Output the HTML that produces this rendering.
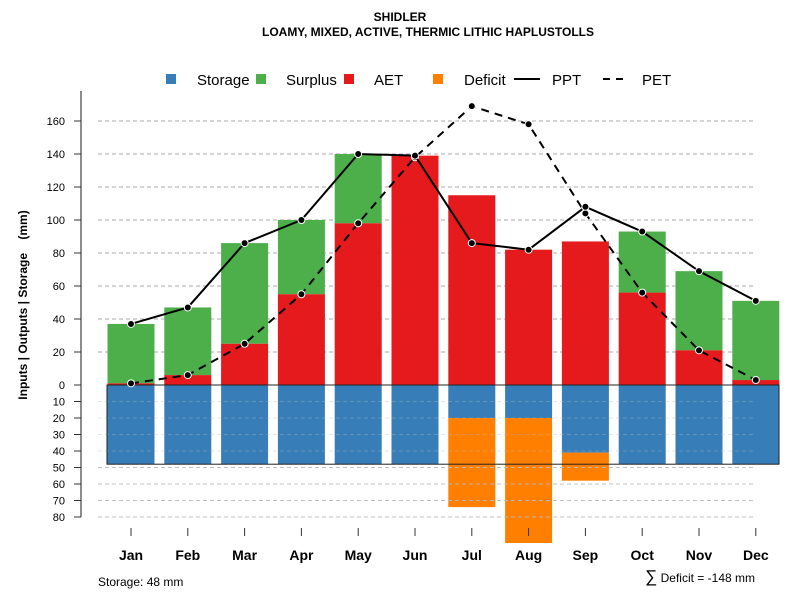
<!DOCTYPE html>
<html><head><meta charset="utf-8"><style>body{margin:0;background:#fff}svg{font-family:"Liberation Sans",sans-serif}</style></head>
<body>
<svg id="c" width="800" height="600">
<text x="400" y="21" text-anchor="middle" font-size="12" font-weight="bold">SHIDLER</text>
<text x="428" y="36" text-anchor="middle" font-size="12" font-weight="bold">LOAMY, MIXED, ACTIVE, THERMIC LITHIC HAPLUSTOLLS</text>
<g id="legend" font-size="15">
<rect x="166" y="74" width="10" height="10" fill="#377EB8"/><text x="197" y="85">Storage</text>
<rect x="256" y="74" width="10" height="10" fill="#4DAF4A"/><text x="286" y="85">Surplus</text>
<rect x="344" y="74" width="10" height="10" fill="#E41A1C"/><text x="374" y="85">AET</text>
<rect x="433" y="74" width="10" height="10" fill="#FF7F00"/><text x="464" y="85">Deficit</text>
<line x1="514" y1="79" x2="540" y2="79" stroke="#000" stroke-width="2"/><text x="552" y="85">PPT</text>
<line x1="603" y1="79" x2="626" y2="79" stroke="#000" stroke-width="2" stroke-dasharray="7,6"/><text x="642" y="85">PET</text>
</g>
<text transform="translate(27,305) rotate(-90)" text-anchor="middle" font-size="12" font-weight="bold" xml:space="preserve">Inputs | Outputs | Storage    (mm)</text>
<text x="98" y="586" font-size="12">Storage: 48 mm</text>
<text x="755" y="582" text-anchor="end" font-size="12"><tspan font-size="17">∑</tspan> Deficit = -148 mm</text>
</svg>
<script>
const months=["Jan","Feb","Mar","Apr","May","Jun","Jul","Aug","Sep","Oct","Nov","Dec"];
const ppt=[37,47,86,100,140,139,86,82,108,93,69,51];
const pet=[1,6,25,55,98,138,169,158,104,56,21,3];
const aet=[1,6,25,55,98,139,115,82,87,56,21,3];
const storage=[48,48,48,48,48,48,20,20,41,48,48,48];
const deficit=[0,0,0,0,0,0,54,76,17,0,0,0];
const upTicks=[0,20,40,60,80,100,120,140,160];
const downTicks=[10,20,30,40,50,60,70,80];
const NS="http://www.w3.org/2000/svg",svg=document.getElementById('c');
const y0=385,k=1.65;
const yUp=v=>y0-v*k, yDn=v=>y0+v*k;
const xC=i=>131+i*56.8, bw=47;
function el(t,a,p){const e=document.createElementNS(NS,t);for(const n in a)e.setAttribute(n,a[n]);(p||svg).appendChild(e);return e;}
months.forEach((m,i)=>{const r=el('rect',{x:xC(i)-bw/2,y:y0,width:bw,height:storage[i]*k,fill:'#377EB8'});

});
months.forEach((m,i)=>{if(!deficit[i])return;const top=yDn(storage[i]);let bot=Math.min(yDn(storage[i]+deficit[i]),543);
const r=el('rect',{x:xC(i)-bw/2,y:top,width:bw,height:bot-top,fill:'#FF7F00'});

});
upTicks.slice(1).forEach(v=>{const l=el('line',{x1:98,x2:756,y1:yUp(v),y2:yUp(v),stroke:'#aaa','stroke-dasharray':'4,3'});

});
downTicks.forEach(v=>{const l=el('line',{x1:98,x2:756,y1:yDn(v),y2:yDn(v),stroke:'#bbb','stroke-dasharray':'4,3','stroke-opacity':v<48?0.35:0.9});

});
months.forEach((m,i)=>{const sur=Math.max(0,ppt[i]-aet[i]);
if(i<5||i>8){const r=el('rect',{x:xC(i)-bw/2,y:yUp(aet[i]+sur),width:bw,height:sur*k,fill:'#4DAF4A'});

}
const a=el('rect',{x:xC(i)-bw/2,y:yUp(aet[i]),width:bw,height:aet[i]*k,fill:'#E41A1C'});

});
const ob=el('rect',{x:107,y:y0,width:672,height:48*k,fill:'none',stroke:'#222','stroke-width':1});


function series(vals,dash,name){const pts=vals.map((v,i)=>xC(i)+','+yUp(v)).join(' ');
const p=el('polyline',{points:pts,fill:'none',stroke:'#000','stroke-width':2,'stroke-dasharray':dash});


vals.forEach((v,i)=>{const c=el('circle',{cx:xC(i),cy:yUp(v),r:3.5,fill:'#000',stroke:'#fff','stroke-width':1});

});}
series(pet,'8,6','pet');series(ppt,'none','ppt');
const ax=el('line',{x1:81,x2:81,y1:yUp(160)-30,y2:yDn(80),stroke:'#666','stroke-width':1.5});


upTicks.forEach(v=>{const t=el('line',{x1:74,x2:81,y1:yUp(v),y2:yUp(v),stroke:'#333'});


const tx=el('text',{x:65,y:yUp(v)+4,'text-anchor':'end','font-size':11});tx.textContent=v;

});
downTicks.forEach(v=>{const t=el('line',{x1:74,x2:81,y1:yDn(v),y2:yDn(v),stroke:'#333'});


const tx=el('text',{x:65,y:yDn(v)+4,'text-anchor':'end','font-size':11});tx.textContent=v;

});
months.forEach((m,i)=>{const t=el('line',{x1:xC(i),x2:xC(i),y1:528,y2:536,stroke:'#333'});


const tx=el('text',{x:xC(i),y:560,'text-anchor':'middle','font-size':14,'font-weight':'bold'});tx.textContent=m;

});
</script>
</body></html>
